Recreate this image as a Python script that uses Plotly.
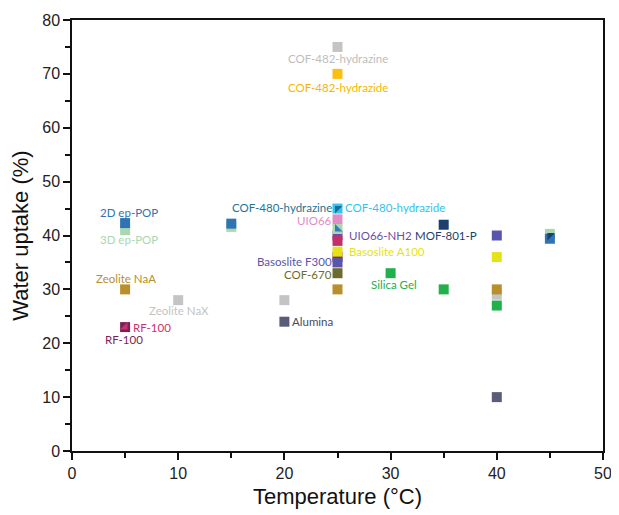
import plotly.graph_objects as go

# ---- data ----
temps = [25, 25, 5, 5, 15, 15, 5, 10, 5, 20, 20,
         25, 25, 25, 25, 25, 25, 25, 25, 25, 25,
         30, 35, 35, 40, 40, 40, 40, 40, 40, 45, 45]
uptake = [75, 70, 41, 42.3, 41.6, 42.2, 30, 28, 23, 28, 24,
          45, 43, 40, 41.2, 39, 36, 37, 35, 33, 30,
          33, 30, 42, 40, 36, 29, 30, 27, 10, 40.3, 39.4]
colors = ["#c4c4c4", "#fbbf0f", "#a9d8b0", "#2e74b5", "#a9d8b0", "#2e74b5",
          "#b88f2c", "#c4c4c4", "#7b1f56", "#c4c4c4", "#5b5b7a",
          "#33c3ee", "#e08dc6", "#6a4fa6", "#a9d8b0", "#c2306a", "#7a1530",
          "#e6e21a", "#5a55ac", "#6b6b2e", "#b88f2c",
          "#22b04c", "#22b04c", "#1b3f6e", "#5a55ac", "#e6e21a", "#c4c4c4",
          "#b88f2c", "#22b04c", "#5b5b7a", "#a9d8b0", "#2e74b5"]

# half-coloured markers (triangle overlays)
tri_temps = [5, 25, 25, 45]
tri_uptake = [23, 45, 41.2, 40]
tri_symbols = ["triangle-se", "triangle-nw", "triangle-sw", "triangle-nw"]
tri_colors = ["#c8336f", "#1a6e96", "#3a7ab8", "#1b3f6e"]

# labels: text, anchor point (data), colour
label_text = ["COF-482-hydrazine", "COF-482-hydrazide", "2D ep-POP", "3D ep-POP",
              "Zeolite NaA", "Zeolite NaX", "RF-100", "RF-100", "Alumina",
              "COF-480-hydrazine", "COF-480-hydrazide", "UIO66", "UIO66-NH2",
              "Basoslite A100", "Basoslite F300", "COF-670", "Silica Gel", "MOF-801-P"]
label_x = [25, 25, 5, 5, 5, 10, 5, 5, 20, 25, 25, 25, 25, 25, 25, 25, 30, 35]
label_y = [75, 70, 42.3, 41, 30, 28, 23, 23, 24, 45, 45, 43, 40, 37, 35, 33, 33, 42]
label_colors = ["#bdbdbd", "#f5b700", "#2e74b5", "#a9d8b0", "#b88f2c", "#c4c4c4",
                "#c8336f", "#7b1f56", "#4a4a62", "#1d7496", "#33c3ee", "#e08dc6",
                "#6a4fa6", "#e6e21a", "#5a55ac", "#6b6b2e", "#22b04c", "#1b3f6e"]

# placement (pixel offsets relative to anchor)
label_place = [("center", 0, -12), ("center", 0, -14), ("center", 4, 11), ("center", 4, -9),
               ("center", 1, 11), ("center", 1, -10), ("left", 7, 0), ("center", -1, -12),
               ("left", 7, 0), ("right", -5, 1), ("left", 6, 1), ("right", -5, -1),
               ("left", 10, 0), ("left", 10, 0), ("right", -5, 1), ("right", -5, -1),
               ("center", 3, -11), ("center", 2, -11)]

fig = go.Figure()
fig.add_trace(go.Scatter(x=temps, y=uptake, mode="markers",
                         marker=dict(symbol="square", size=10, color=colors, line=dict(width=0)),
                         showlegend=False, hoverinfo="x+y"))
fig.add_trace(go.Scatter(x=tri_temps, y=tri_uptake, mode="markers",
                         marker=dict(symbol=tri_symbols, size=8.3, color=tri_colors, line=dict(width=0)),
                         showlegend=False, hoverinfo="skip"))

for t, x, y, c, (anc, dx, dy) in zip(label_text, label_x, label_y, label_colors, label_place):
    fig.add_annotation(x=x, y=y, text=t, showarrow=False, xanchor=anc, yanchor="middle",
                       xshift=dx, yshift=dy, borderpad=0,
                       font=dict(family="Lato, Open Sans, sans-serif", size=11.5, color=c))

axis_common = dict(showgrid=False, zeroline=False, showline=True, linecolor="#111",
                   linewidth=1.5, mirror=True, ticks="outside", ticklen=7, tickwidth=1.5,
                   tickcolor="#111", automargin=False,
                   tickfont=dict(family="Liberation Sans, Arial, sans-serif", size=16, color="#222"),
                   minor=dict(ticks="outside", ticklen=5, tickwidth=1.5, tickcolor="#111", dtick=5))

fig.update_xaxes(range=[0, 50], dtick=10, tick0=0,
                 title=dict(text="Temperature (°C)", standoff=8,
                            font=dict(family="Liberation Sans, Arial, sans-serif", size=22, color="#111")),
                 **axis_common)
fig.update_yaxes(range=[0, 80], dtick=10, tick0=0,
                 title=dict(text="Water uptake (%)", standoff=10,
                            font=dict(family="Liberation Sans, Arial, sans-serif", size=22, color="#111")),
                 **axis_common)

# page body has an 8px default margin, so the figure is sized to fit inside the window
fig.update_layout(width=611, height=507, margin=dict(l=64, r=16, t=12, b=64),
                  plot_bgcolor="white", paper_bgcolor="white")

fig.write_html("out.html")
